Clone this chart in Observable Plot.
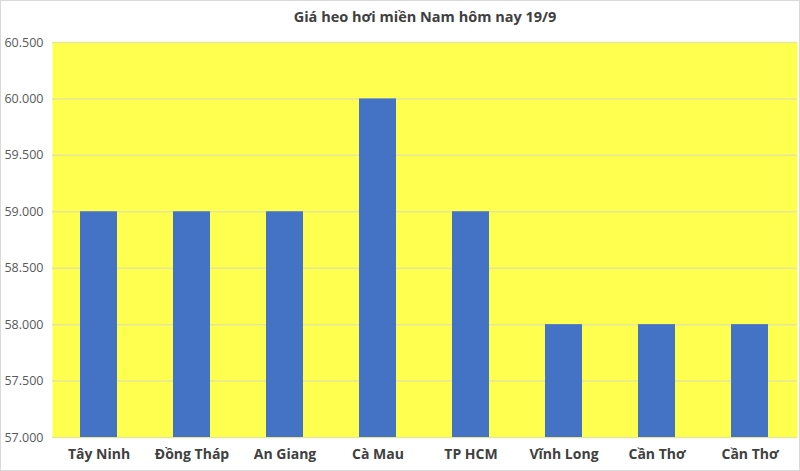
<!DOCTYPE html>
<html><head><meta charset="utf-8">
<script src="https://cdn.jsdelivr.net/npm/d3@7"></script>
<script src="https://cdn.jsdelivr.net/npm/@observablehq/plot@0.6"></script>
<style>
body{margin:0;background:#fff;}
#chart{width:800px;height:471px;box-sizing:border-box;}
</style>
</head><body><div id="chart"></div>
<script>
const title = "Giá heo hơi miền Nam hôm nay 19/9";
const provinces = ["Tây Ninh","Đồng Tháp","An Giang","Cà Mau","TP HCM","Vĩnh Long","Cần Thơ","Cần Thơ"];
const prices = [59000,59000,59000,60000,59000,58000,58000,58000];
const yTicks = [57000,57500,58000,58500,59000,59500,60000,60500];

const data = provinces.map((p,i)=>({idx:i, name:p, price:prices[i]}));
const font = "'Open Sans', 'Liberation Sans', sans-serif";

const chart = Plot.plot({
  width: 800, height: 471,
  marginTop: 42, marginBottom: 34, marginLeft: 52, marginRight: 3,
  style:{fontFamily:font, background:"#fff"},
  x:{domain:d3.range(provinces.length), paddingInner:0.6, paddingOuter:0.3, tickFormat:i=>provinces[i], tickSize:0, label:null},
  y:{domain:[57000,60500], ticks:yTicks, tickFormat:v=>(v/1000).toFixed(3), tickSize:0, label:null},
  marks:[
    Plot.frame({fill:"#ffff50", stroke:null}),
    Plot.gridY(yTicks,{stroke:"#e6e69a", strokeOpacity:1, strokeWidth:1.5}),
    Plot.barY(data,{x:"idx", y1:57000, y2:"price", fill:"#4472c4"}),
    Plot.axisY({ticks:yTicks, tickFormat:v=>(v/1000).toFixed(3), tickSize:0, tickPadding:9, fontSize:12.5, fill:"#595959", anchor:"left"}),
    Plot.axisX({tickFormat:i=>provinces[i], tickSize:0, tickPadding:12, fontSize:14, fontWeight:"bold", fill:"#404040"}),
    Plot.text([title],{frameAnchor:"top", dy:-31, fontSize:14.5, fontWeight:"bold", fill:"#404040", lineAnchor:"top"})
  ]
});
document.getElementById("chart").appendChild(chart);
const svg = d3.select(chart);
svg.append("rect").attr("x",0.5).attr("y",0.5).attr("width",799).attr("height",470)
  .attr("fill","none").attr("stroke","#d9d9d9");
</script></body></html>
